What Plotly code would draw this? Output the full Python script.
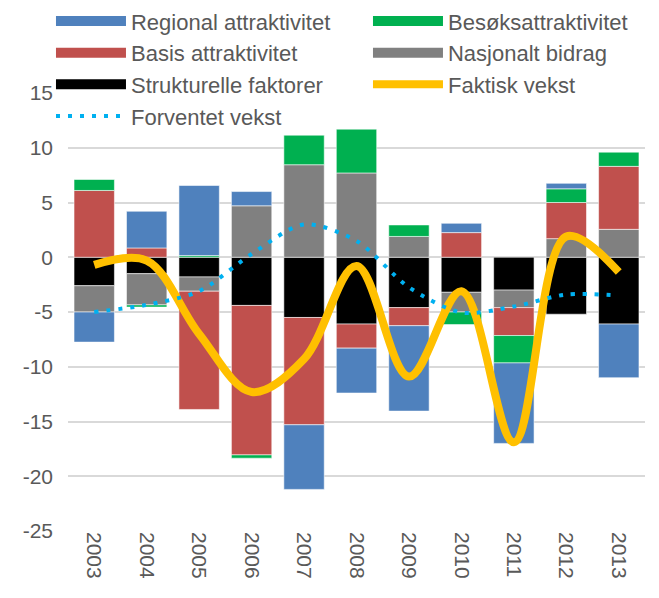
import plotly.graph_objects as go

years = ["2003", "2004", "2005", "2006", "2007", "2008", "2009", "2010", "2011", "2012", "2013"]

strukturelle = [-2.6, -1.5, -1.8, -4.4, -5.5, -6.1, -4.6, -3.2, -3.0, -5.2, -6.1]
nasjonalt = [-2.4, -2.85, -1.3, 4.7, 8.45, 7.7, 1.9, -1.8, -1.6, 1.7, 2.55]
basis = [6.1, 0.85, -10.8, -13.65, -9.8, -2.2, -1.65, 2.25, -2.55, 3.3, 5.75]
besok = [1.0, -0.2, 0.15, -0.3, 2.7, 4.0, 1.05, -1.15, -2.5, 1.25, 1.3]
regional = [-2.75, 3.35, 6.4, 1.3, -5.9, -4.1, -7.8, 0.85, -7.35, 0.5, -4.9]

faktisk = [-0.7, -0.3, -7.0, -12.3, -9.3, -0.8, -10.9, -3.1, -16.9, 1.9, -1.35]
forventet = [-5.0, -4.35, -3.1, 0.3, 3.0, 1.5, -2.75, -5.05, -4.5, -3.4, -3.5]

y_ticks = [15, 10, 5, 0, -5, -10, -15, -20, -25]
y_tick_labels = ["15", "10", "5", "0", "-5", "-10", "-15", "-20", "-25"]

C_REG = "#4F81BD"
C_BES = "#00B050"
C_BAS = "#C0504D"
C_NAS = "#808080"
C_STR = "#000000"
C_FAK = "#FFC000"
C_FOR = "#00B0F0"

bar_series = [
    ("Strukturelle faktorer", strukturelle, C_STR, 5),
    ("Nasjonalt bidrag", nasjonalt, C_NAS, 4),
    ("Basis attraktivitet", basis, C_BAS, 3),
    ("Besøksattraktivitet", besok, C_BES, 2),
    ("Regional attraktivitet", regional, C_REG, 1),
]

fig = go.Figure()
for name, vals, col, rank in bar_series:
    fig.add_trace(go.Bar(
        x=years, y=vals, name=name,
        marker=dict(color=col, line=dict(color="rgba(255,255,255,0.55)", width=1)),
        legendgroup=name, showlegend=False,
    ))

fig.add_trace(go.Scatter(
    x=years, y=faktisk, name="Faktisk vekst", mode="lines",
    line=dict(color=C_FAK, width=8, shape="spline", smoothing=1.0),
    legendrank=6,
))
fig.add_trace(go.Scatter(
    x=years, y=forventet, name="Forventet vekst", mode="lines",
    line=dict(color=C_FOR, width=4, shape="spline", smoothing=0.8, dash="4px,8px"),
    legendrank=7,
))

# legend-only swatches for bar series (wide rectangles like the original)
for name, vals, col, rank in bar_series:
    fig.add_trace(go.Scatter(
        x=[None], y=[None], name=name, mode="lines",
        line=dict(color=col, width=14), legendgroup=name, legendrank=rank,
        hoverinfo="skip",
    ))

# page body has an 8px default margin, so the figure is sized to fill the rest of the window
fig.update_layout(
    width=651, height=590,
    barmode="relative", bargap=0.23,
    plot_bgcolor="white", paper_bgcolor="white",
    margin=dict(l=60, r=14, t=85, b=67, autoexpand=False),
    font=dict(family="Liberation Sans, Arial, sans-serif", color="#595959", size=21),
    legend=dict(
        orientation="h",
        x=-0.0295, y=1.2116, xanchor="left", yanchor="top",
        font=dict(size=22, color="#595959"),
        entrywidth=232, traceorder="normal",
        bgcolor="rgba(0,0,0,0)", tracegroupgap=0, itemwidth=70,
    ),
    xaxis=dict(
        tickangle=90, showgrid=False, zeroline=False, showline=False,
        tickfont=dict(size=21, color="#595959"), ticks="",
    ),
    yaxis=dict(
        range=[-25, 15], tickvals=y_ticks, ticktext=y_tick_labels,
        showgrid=True, gridcolor="#D9D9D9", gridwidth=1.5,
        zeroline=True, zerolinecolor="#D9D9D9", zerolinewidth=1.5,
        tickfont=dict(size=21, color="#595959"), ticks="", ticklabelstandoff=14,
    ),
)

fig.write_html("out.html")
